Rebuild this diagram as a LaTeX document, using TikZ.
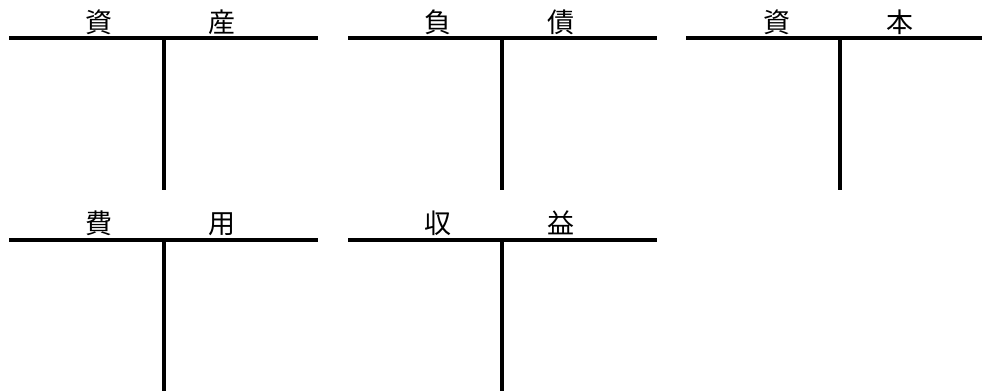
\documentclass[tikz,border=0pt]{standalone}
\usepackage{fontspec}
\newfontfamily\cjk{Noto Sans CJK JP}
\tikzstyle{every node}=[font=\cjk\fontsize{27}{27}\selectfont, inner sep=0pt, anchor=base]
\tikzstyle{tline}=[line width=3.6pt]

\begin{document}
\begin{tikzpicture}[x=1pt, y=-1pt]
  \useasboundingbox (0,0) rectangle (982,391);

  % T-accounts: name/left/split/right/top/bottom/label y/left x/right x/left label/right label
  \foreach \n/\l/\m/\r/\t/\b/\y/\p/\q/\a/\c in {
      asset/9/164/318/38/190/32/99/222/資/産,
      debt/348/502/657/38/190/32/438/561/負/債,
      capital/686/840/982/38/190/32/777/900/資/本,
      cost/9/164/318/240/391/233/99/222/費/用,
      income/348/502/657/240/391/233/438/561/収/益}{
    \coordinate (\n-l) at (\l,\t);
    \coordinate (\n-r) at (\r,\t);
    \coordinate (\n-m) at (\m,\t);
    \coordinate (\n-b) at (\m,\b);
    \node (\n-dr) at (\p,\y) {\a};
    \node (\n-cr) at (\q,\y) {\c};
    % horizontal bar and split
    \draw[tline] (\n-l) -- (\n-r);
    \draw[tline] (\n-m) -- (\n-b);
  }
\end{tikzpicture}
\end{document}
